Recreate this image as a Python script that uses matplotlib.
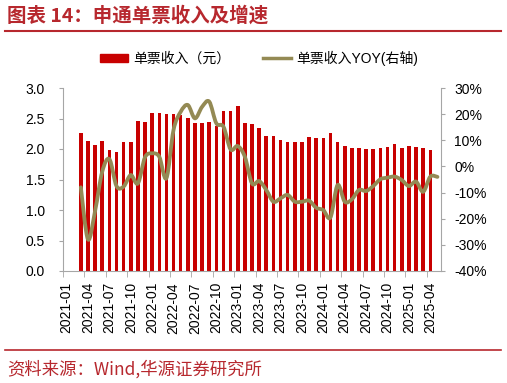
import numpy as np
import pandas as pd
import matplotlib
matplotlib.use('Agg')
import matplotlib.pyplot as plt
from matplotlib.path import Path
from matplotlib.patches import PathPatch, Patch
from matplotlib.lines import Line2D
from matplotlib.ticker import FuncFormatter

plt.rcParams['font.family'] = ['Liberation Sans', 'Noto Sans CJK SC']

# categories on the x axis (monthly), data starts in 2021-03
months = pd.period_range('2021-01', '2025-05', freq='M').strftime('%Y-%m').tolist()
start = '2021-03'

# 单票收入 (元), 2021-03 .. 2025-04
income = [2.26, 2.13, 2.07, 2.13, 1.98, 1.95, 2.11, 2.11, 2.46, 2.44, 2.59, 2.59,
          2.57, 2.57, 2.55, 2.51, 2.42, 2.42, 2.44, 2.37, 2.63, 2.63, 2.70, 2.43,
          2.41, 2.35, 2.22, 2.22, 2.14, 2.11, 2.11, 2.11, 2.20, 2.18, 2.18, 2.26,
          2.11, 2.05, 2.02, 2.02, 2.00, 2.00, 2.02, 2.03, 2.09, 2.02, 2.05, 2.03,
          2.02, 1.98]

# 单票收入YOY (%), 2021-03 .. 2025-05
yoy = [-8.0, -27.9, -17.0, -2.0, 2.8, -7.5, -7.7, -3.3, -6.5, 3.5, 5.0, 3.7,
       -4.5, 14.0, 20.9, 23.5, 18.4, 22.8, 24.8, 16.5, 15.2, 6.5, 7.8, 3.7,
       -6.5, -5.6, -9.0, -13.5, -12.2, -10.9, -13.5, -13.5, -13.1, -15.8, -16.7, -19.5,
       -7.1, -13.5, -12.6, -9.0, -9.4, -7.5, -4.9, -4.3, -3.9, -5.2, -7.5, -5.8,
       -9.7, -3.9, -4.0]

bar_color = '#C80000'
line_color = '#948A54'
red = '#B7282E'
axis_gray = '#A6A6A6'

i0 = months.index(start)
bar_x = np.arange(i0, i0 + len(income))
line_x = np.arange(i0, i0 + len(yoy))

fig = plt.figure(figsize=(5.07, 3.83), dpi=100)
ax = fig.add_axes([63 / 507, 112 / 383, 378 / 507, 183 / 383])
ax.bar(bar_x, income, width=0.5, color=bar_color, zorder=2)
ax.set_xlim(-0.5, len(months) - 0.5)
ax.set_ylim(0, 3)
ax.set_yticks(np.arange(0, 3.01, 0.5))
ax.yaxis.set_major_formatter(FuncFormatter(lambda v, p: f'{v:.1f}'))

ax.set_xticks(range(0, len(months), 3))
ax.set_xticklabels(months[::3], rotation=90)
ax.set_xticks(np.arange(-0.5, len(months) - 1, 3), minor=True)
ax.tick_params(axis='x', which='major', length=0, pad=8, labelsize=10)
ax.tick_params(axis='x', which='minor', length=4, color=axis_gray, direction='out')
ax.tick_params(axis='y', length=3, color=axis_gray, pad=10, labelsize=10)

for s in ['top', 'right']:
    ax.spines[s].set_visible(False)
for s in ['left', 'bottom']:
    ax.spines[s].set_color(axis_gray)

# right axis, smoothed line (Excel-style bezier through the points)
ax2 = ax.twinx()
ax2.set_ylim(-40, 30)
ax2.set_yticks(range(-40, 31, 10))
ax2.yaxis.set_major_formatter(FuncFormatter(lambda v, p: f'{v:.0f}%'))
ax2.tick_params(axis='y', length=3, color=axis_gray, pad=6.5, labelsize=10)
for s in ['top', 'left', 'bottom']:
    ax2.spines[s].set_visible(False)
ax2.spines['right'].set_color(axis_gray)

pts = np.column_stack([line_x, yoy]).astype(float)
n = len(pts)
verts = [pts[0]]
codes = [Path.MOVETO]
for i in range(n - 1):
    p0 = pts[i - 1] if i > 0 else pts[i]
    p1 = pts[i]
    p2 = pts[i + 1]
    p3 = pts[i + 2] if i + 2 < n else pts[i + 1]
    verts += [p1 + (p2 - p0) / 6, p2 - (p3 - p1) / 6, p2]
    codes += [Path.CURVE4] * 3
ax2.add_patch(PathPatch(Path(verts, codes), facecolor='none', edgecolor=line_color,
                        lw=2.75, capstyle='round', joinstyle='round', zorder=3))

# legend
handles = [Patch(color=bar_color), Line2D([], [], color=line_color, lw=2.5)]
fig.legend(handles, ['单票收入（元）', '单票收入YOY(右轴)'], loc='center',
           bbox_to_anchor=(259 / 507, 1 - 58 / 383), ncol=2, frameon=False,
           fontsize=10, handlelength=2.0, handleheight=0.5, handletextpad=0.35,
           columnspacing=2.4)

# title, rules and source
fig.text(7 / 507, 1 - 16 / 383, '图表 14：申通单票收入及增速', color=red, fontsize=14,
         fontweight='bold', family='Noto Sans CJK SC', va='center')
fig.add_artist(Line2D([5 / 507, 501 / 507], [1 - 31 / 383] * 2, color=red, lw=1.5))
fig.add_artist(Line2D([5 / 507, 501 / 507], [1 - 350 / 383] * 2, color=red, lw=1.2))
fig.text(7 / 507, 1 - 369 / 383, '资料来源：Wind,华源证券研究所', color=red, fontsize=12.5,
         family='Noto Sans CJK SC', va='center')

fig.savefig('out.png', dpi=100)
